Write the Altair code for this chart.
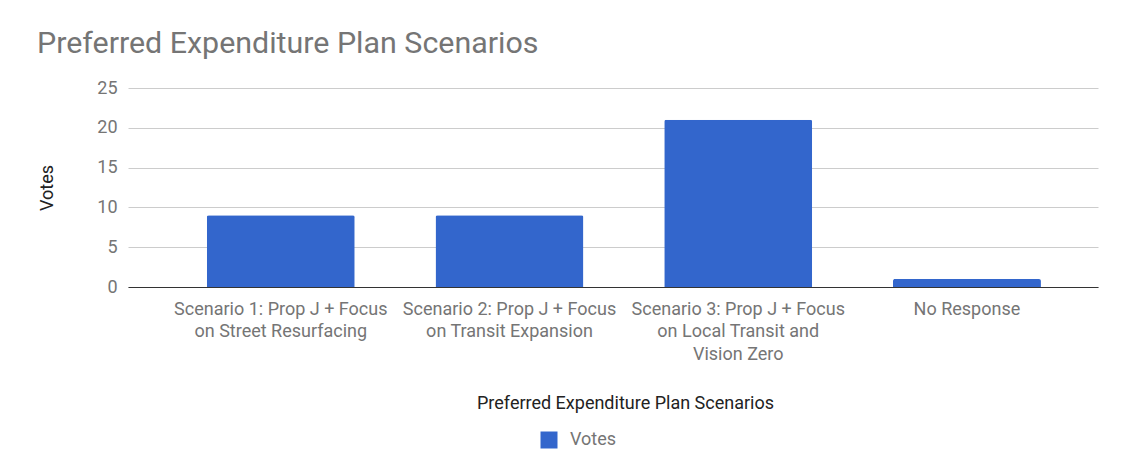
import altair as alt
import pandas as pd

categories = [
    "Scenario 1: Prop J + Focus|on Street Resurfacing",
    "Scenario 2: Prop J + Focus|on Transit Expansion",
    "Scenario 3: Prop J + Focus|on Local Transit and|Vision Zero",
    "No Response",
]
votes = [9, 9, 21, 1]
series = ["Votes"] * len(categories)
y_ticks = [0, 5, 10, 15, 20, 25]

df = pd.DataFrame({"scenario": categories, "votes": votes, "series": series})

FONT = "Roboto"
GRAY = "#757575"
DARK = "#222222"
FS = 18

bars = alt.Chart(df).mark_bar(
    cornerRadiusTopLeft=2, cornerRadiusTopRight=2
).encode(
    x=alt.X(
        "scenario:N",
        sort=categories,
        scale=alt.Scale(paddingInner=0.353, paddingOuter=0.297, align=0.58),
        axis=alt.Axis(
            title="Preferred Expenditure Plan Scenarios",
            labelExpr="split(datum.label, '|')",
            labelAngle=0,
            labelFont=FONT,
            labelFontSize=FS,
            labelColor=GRAY,
            labelLineHeight=22.5,
            labelPadding=13,
            labelBaseline="top",
            labelLimit=400,
            ticks=False,
            domain=True,
            domainColor="#333333",
            domainWidth=1.2,
            grid=False,
            titleFont=FONT,
            titleFontSize=FS,
            titleFontWeight="normal",
            titleColor=DARK,
            titlePadding=31,
            titleX=497,
        ),
    ),
    y=alt.Y(
        "votes:Q",
        scale=alt.Scale(domain=[0, 25], nice=False),
        axis=alt.Axis(
            title="Votes",
            values=y_ticks,
            labelFont=FONT,
            labelFontSize=FS,
            labelColor=GRAY,
            labelPadding=11,
            labelOverlap=False,
            ticks=False,
            domain=False,
            grid=True,
            gridColor="#cccccc",
            titleFont=FONT,
            titleFontSize=FS,
            titleFontWeight="normal",
            titleColor=DARK,
            titlePadding=40,
        ),
    ),
    color=alt.Color(
        "series:N",
        scale=alt.Scale(domain=["Votes"], range=["#3366CC"]),
        legend=alt.Legend(
            title=None,
            orient="none",
            legendX=412,
            legendY=343,
            symbolType="square",
            symbolSize=289,
            symbolStrokeWidth=0,
            labelFont=FONT,
            labelFontSize=FS,
            labelColor=GRAY,
            labelOffset=12,
        ),
    ),
).properties(
    width=970,
    height=199,
    title=alt.TitleParams(
        "Preferred Expenditure Plan Scenarios",
        anchor="start",
        frame="group",
        font=FONT,
        fontSize=30.4,
        fontWeight="normal",
        color=GRAY,
        dx=-91,
        offset=20,
    ),
    autosize=alt.AutoSizeParams(type="none"),
    padding={"left": 120, "top": 80, "right": 40, "bottom": 170},
)

chart = bars.configure(background="white").configure_view(stroke=None)

chart.save("out.html", embed_options={"renderer": "svg", "actions": False})
